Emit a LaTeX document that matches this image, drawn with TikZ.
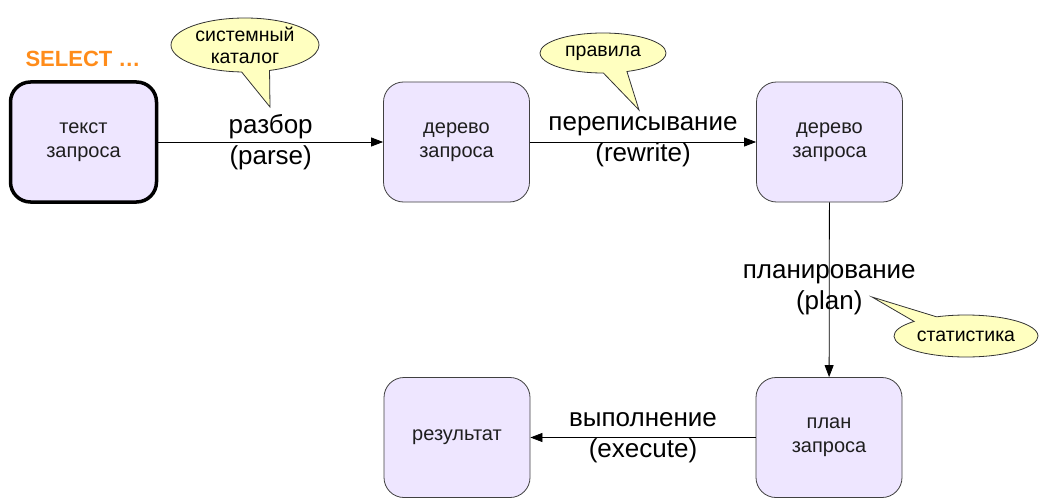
\documentclass[tikz,border=0pt]{standalone}
\usepackage{fontspec}
\setmainfont{Liberation Sans}
\usetikzlibrary{arrows.meta,shapes.callouts}
\definecolor{boxfill}{RGB}{238,230,255}
\definecolor{callfill}{RGB}{255,255,192}
\definecolor{selorange}{RGB}{255,140,26}
\definecolor{txt}{RGB}{30,30,30}
\begin{document}
\begin{tikzpicture}[x=1pt,y=-1pt,
  qbox/.style={draw=black!75, line width=0.8pt, rounded corners=20pt, fill=boxfill,
    minimum width=146pt, minimum height=120pt, align=center, inner sep=0pt,
    text=txt, font=\fontsize{20}{24}\selectfont},
  startbox/.style={qbox, draw=black, line width=3.5pt},
  flow/.style={draw=black, line width=0.8pt, -{Triangle[length=12pt,width=9pt]}},
  elab/.style={midway, align=center, inner sep=0pt, text=black, font=\fontsize{26}{31}\selectfont},
  note/.style={ellipse callout, draw=black!80, line width=0.8pt, fill=callfill, inner sep=0pt,
    align=center, text=black, font=\fontsize{19.5}{22}\selectfont, callout pointer arc=22},
]
\useasboundingbox (0,0) rectangle (1040,500);

\node[startbox] (t) at (83.5,142) {текст\\запроса};
\node[qbox] (d1) at (456.5,142) {дерево\\запроса};
\node[qbox] (d2) at (829.5,142) {дерево\\запроса};
\node[qbox] (p) at (829,437.5) {план\\запроса};
\node[qbox] (r) at (457,437.5) {результат};

\node[text=selorange, font=\fontsize{22}{24}\selectfont\bfseries] (sel) at (83,59) {SELECT …};

\draw[flow] (t) -- node[elab] (l1) {разбор\\(parse)} (d1);
\draw[flow] (d1) -- node[elab] (l2) {переписывание\\(rewrite)} (d2);
\draw[flow] (d2) -- node[elab] (l3) {планирование\\(plan)} (p);
\draw[flow] (p) -- node[elab] (l4) {выполнение\\(execute)} (r);

\coordinate (tipA) at (270,107);
\coordinate (tipB) at (639,110);
\coordinate (tipC) at (872,297);
\node[note, minimum width=148pt, minimum height=54pt, callout absolute pointer={(tipA)}] (cat) at (245,45) {системный\\каталог};
\node[note, minimum width=126pt, minimum height=40pt, callout absolute pointer={(tipB)}] (rul) at (603,53) {правила};
\node[note, minimum width=144pt, minimum height=42pt, callout absolute pointer={(tipC)}] (st) at (966,336) {статистика};
\end{tikzpicture}
\end{document}
